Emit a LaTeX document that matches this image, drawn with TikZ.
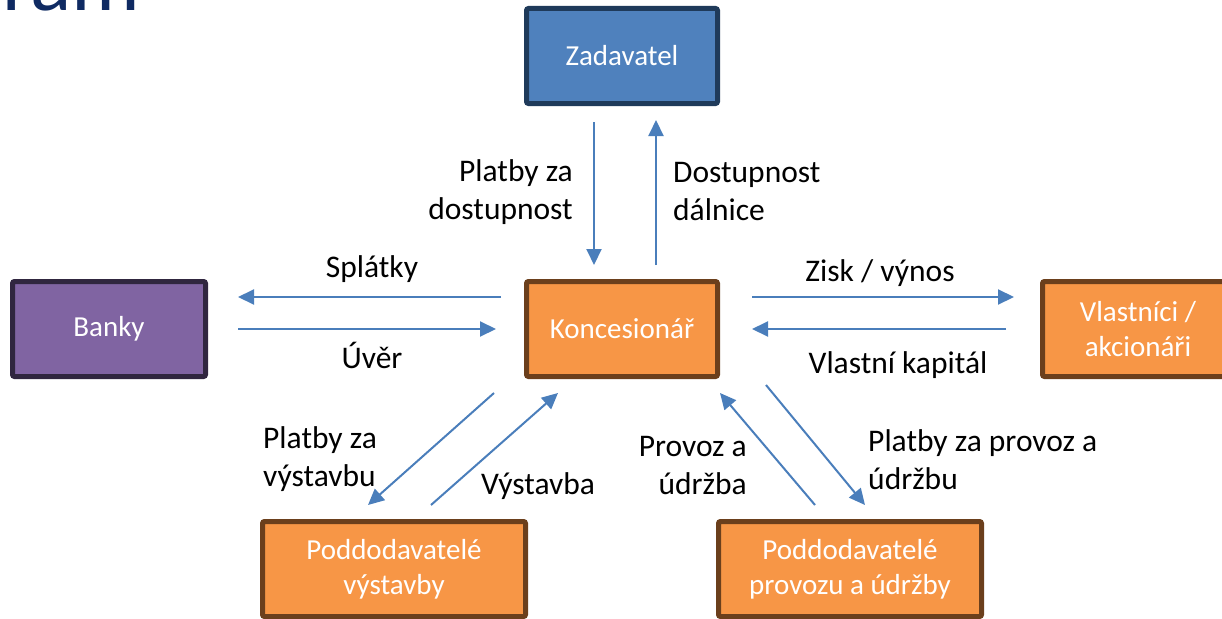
\documentclass[tikz,border=0pt]{standalone}
\usepackage{fontspec}
\setmainfont{Carlito}
\usetikzlibrary{arrows.meta}
\definecolor{arrowblue}{HTML}{4A7EBB}
\definecolor{zfill}{HTML}{4F81BD}
\definecolor{zdraw}{HTML}{1F3A5A}
\definecolor{bfill}{HTML}{8064A2}
\definecolor{bdraw}{HTML}{30263F}
\definecolor{ofill}{HTML}{F79646}
\definecolor{odraw}{HTML}{6B3F1C}
\definecolor{titlecol}{HTML}{0F2A62}
\tikzset{
  box/.style={rectangle, rounded corners=2pt, line width=5pt, text=white,
    font=\fontsize{29}{35}\selectfont, align=center, inner sep=0pt},
  bluebox/.style={box, fill=zfill, draw=zdraw, minimum width=191pt, minimum height=95pt},
  purplebox/.style={box, fill=bfill, draw=bdraw, minimum width=193pt, minimum height=95pt},
  orangebox/.style={box, fill=ofill, draw=odraw, minimum width=191pt, minimum height=95pt},
  widebox/.style={box, fill=ofill, draw=odraw, minimum width=263pt, minimum height=95pt},
  flow/.style={draw=arrowblue, line width=2pt, -{Triangle[length=16pt, width=15pt]}},
  lbl/.style={font=\fontsize{31.5}{38}\selectfont, text=black, inner sep=0pt}
}
\begin{document}
\begin{tikzpicture}[x=1pt, y=-1pt]
\useasboundingbox (0,0) rectangle (1222,618);
% cropped title
\node[anchor=base west, inner sep=0pt, text=titlecol, font=\fontsize{86}{86}\selectfont] (title) at (2,11) {ram};
% boxes
\node[bluebox] (zad) at (622,56) {Zadavatel};
\node[purplebox] (bank) at (109,329) {Banky};
\node[orangebox] (kon) at (622,329) {Koncesionář};
\node[orangebox] (vla) at (1138,329) {Vlastníci /\\akcionáři};
\node[widebox] (pv) at (394,569) {Poddodavatelé\\výstavby};
\node[widebox] (pp) at (850,569) {Poddodavatelé\\provozu a údržby};
% arrow end coordinates
\coordinate (a1s) at (594,122); \coordinate (a1e) at (594,265);
\coordinate (a2s) at (656,265); \coordinate (a2e) at (656,120);
\coordinate (a3s) at (501,297); \coordinate (a3e) at (238,297);
\coordinate (a4s) at (238,329); \coordinate (a4e) at (496,329);
\coordinate (a5s) at (752,297); \coordinate (a5e) at (1014,297);
\coordinate (a6s) at (1006,329); \coordinate (a6e) at (752,329);
\coordinate (a7s) at (494,393); \coordinate (a7e) at (368,505);
\coordinate (a8s) at (431,505); \coordinate (a8e) at (558,393);
\coordinate (a9s) at (815,505); \coordinate (a9e) at (720,393);
\coordinate (a10s) at (766,385); \coordinate (a10e) at (865,505);
\draw[flow] (a1s) -- (a1e);
\draw[flow] (a2s) -- (a2e);
\draw[flow] (a3s) -- (a3e);
\draw[flow] (a4s) -- (a4e);
\draw[flow] (a5s) -- (a5e);
\draw[flow] (a6s) -- (a6e);
\draw[flow] (a7s) -- (a7e);
\draw[flow] (a8s) -- (a8e);
\draw[flow] (a9s) -- (a9e);
\draw[flow] (a10s) -- (a10e);
% labels
\node[lbl, align=right, anchor=east] (l1) at (573,192) {Platby za\\dostupnost};
\node[lbl, align=left, anchor=west] (l2) at (673,192) {Dostupnost\\dálnice};
\node[lbl] (l3) at (372,269) {Splátky};
\node[lbl] (l4) at (372,355) {Úvěr};
\node[lbl] (l5) at (880,273) {Zisk / výnos};
\node[lbl] (l6) at (898,365) {Vlastní kapitál};
\node[lbl, align=left, anchor=west] (l7) at (263,459) {Platby za\\výstavbu};
\node[lbl] (l8) at (538,486) {Výstavba};
\node[lbl, align=right, anchor=east] (l9) at (747,466) {Provoz a\\údržba};
\node[lbl, align=left, anchor=west] (l10) at (868,460) {Platby za provoz a\\údržbu};
\end{tikzpicture}
\end{document}
